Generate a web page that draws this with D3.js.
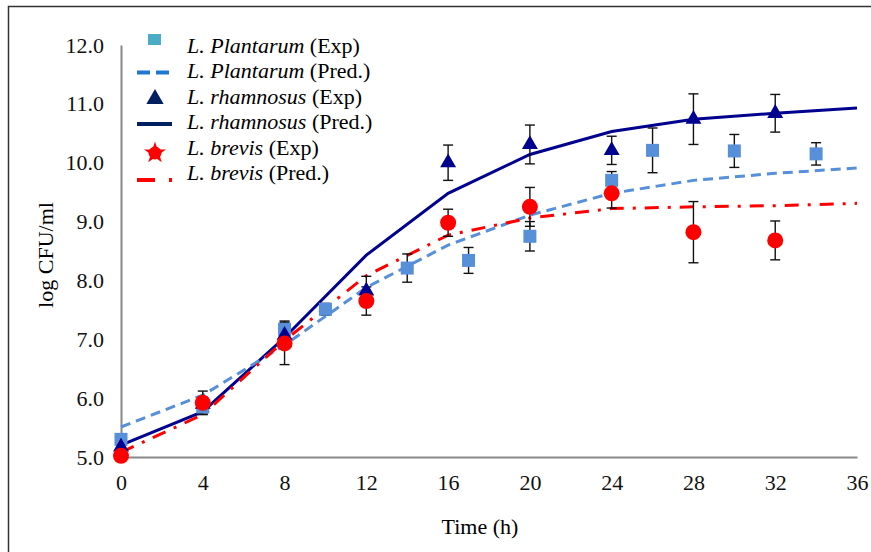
<!doctype html>
<html>
<head>
<meta charset="utf-8">
<script src="https://cdn.jsdelivr.net/npm/d3@7/dist/d3.min.js"></script>
<style>
  body { margin: 0; background: white; }
  svg { font-family: "Liberation Serif", "Times New Roman", serif; }
</style>
</head>
<body>
<svg id="chart" width="871" height="552"></svg>
<script>
// experimental points: time, mean, error
const plantTime = [0, 4, 8, 10, 14, 17, 20, 24, 26, 30, 34]
const plantExp  = [5.3, 5.85, 7.17, 7.51, 8.21, 8.34, 8.75, 9.7, 10.21, 10.2, 10.15]
const plantErr  = [0.05, 0.12, 0.14, 0.1, 0.24, 0.22, 0.25, 0.15, 0.38, 0.28, 0.19]

const rhamTime = [0, 4, 8, 12, 16, 20, 24, 28, 32]
const rhamExp  = [5.17, 5.9, 7.07, 7.82, 10.0, 10.31, 10.21, 10.74, 10.84]
const rhamErr  = [0.05, 0.12, 0.1, 0.25, 0.3, 0.33, 0.24, 0.43, 0.32]

const brevTime = [0, 4, 8, 12, 16, 20, 24, 28, 32]
const brevExp  = [5.02, 5.92, 6.93, 7.65, 8.98, 9.25, 9.48, 8.82, 8.68]
const brevErr  = [0.03, 0.2, 0.36, 0.24, 0.23, 0.33, 0.25, 0.52, 0.33]

// model predictions
const predTime  = [0, 4, 8, 12, 16, 20, 24, 28, 32, 36]
const plantPred = [5.51, 6.05, 6.9, 7.88, 8.6, 9.11, 9.48, 9.7, 9.82, 9.91]
const rhamPred  = [5.2, 5.77, 7.03, 8.43, 9.48, 10.14, 10.53, 10.74, 10.84, 10.93]
const brevPred  = [5.08, 5.72, 6.98, 8.08, 8.77, 9.06, 9.22, 9.25, 9.27, 9.31]

const xTicks = [0, 4, 8, 12, 16, 20, 24, 28, 32, 36]
const yTicks = [5, 6, 7, 8, 9, 10, 11, 12]

const cPlant = "#578fd8", cRham = "#00008f", cBrev = "#ff0000"
const fontSize = 22

const svg = d3.select("#chart")

// outer frame
svg.append("rect")
  .attr("x", 8.5).attr("y", 6.5)
  .attr("width", 900).attr("height", 600)
  .attr("fill", "none").attr("stroke", "#333").attr("stroke-width", 1.5)

const x = d3.scaleLinear().domain([0, 36]).range([121, 857])
const y = d3.scaleLinear().domain([5, 12]).range([457, 45])

// axes
const xAxis = svg.append("g")
  .attr("transform", "translate(0," + y(5) + ")")
  .call(d3.axisBottom(x).tickValues(xTicks).tickSize(0).tickPadding(17))
xAxis.select(".domain").attr("stroke", "#888").attr("stroke-width", 2)
xAxis.selectAll("text").attr("font-size", fontSize).attr("fill", "#111")
  .attr("font-family", "Liberation Serif")

const yAxis = svg.append("g")
  .attr("transform", "translate(" + x(0) + ",0)")
  .call(d3.axisLeft(y).tickValues(yTicks).tickSize(0).tickPadding(17).tickFormat(d3.format(".1f")))
yAxis.select(".domain").attr("stroke", "#888").attr("stroke-width", 2)
yAxis.selectAll("text").attr("font-size", fontSize).attr("fill", "#111")
  .attr("font-family", "Liberation Serif")

svg.append("text")
  .attr("x", 480).attr("y", 534)
  .attr("text-anchor", "middle")
  .attr("font-size", fontSize)
  .text("Time (h)")

svg.append("text")
  .attr("transform", "translate(53,255) rotate(-90)")
  .attr("text-anchor", "middle")
  .attr("font-size", fontSize)
  .text("log CFU/ml")

// prediction lines
const line = d3.line().x((d) => x(d[0])).y((d) => y(d[1]))
const pairs = (ts, vs) => ts.map((t, i) => [t, vs[i]])

svg.append("path")
  .attr("d", line(pairs(predTime, rhamPred)))
  .attr("fill", "none").attr("stroke", cRham).attr("stroke-width", 3)

svg.append("path")
  .attr("d", line(pairs(predTime, plantPred)))
  .attr("fill", "none").attr("stroke", cPlant).attr("stroke-width", 3)
  .attr("stroke-dasharray", "10,6")

svg.append("path")
  .attr("d", line(pairs(predTime, brevPred)))
  .attr("fill", "none").attr("stroke", cBrev).attr("stroke-width", 3)
  .attr("stroke-dasharray", "14,9,3,9")

// error bars
function errorBars(ts, vs, es) {
  const g = svg.append("g").attr("stroke", "#111").attr("stroke-width", 1.4)
  ts.forEach(function(t, i) {
    const cx = x(t), y0 = y(vs[i] - es[i]), y1 = y(vs[i] + es[i])
    g.append("line").attr("x1", cx).attr("x2", cx).attr("y1", y0).attr("y2", y1)
    g.append("line").attr("x1", cx - 5).attr("x2", cx + 5).attr("y1", y0).attr("y2", y0)
    g.append("line").attr("x1", cx - 5).attr("x2", cx + 5).attr("y1", y1).attr("y2", y1)
  })
}
errorBars(plantTime, plantExp, plantErr)
errorBars(rhamTime, rhamExp, rhamErr)
errorBars(brevTime, brevExp, brevErr)

// markers
svg.selectAll(".sq")
  .data(pairs(plantTime, plantExp))
  .enter().append("rect")
    .attr("x", (d) => x(d[0]) - 6.5).attr("y", (d) => y(d[1]) - 6.5)
    .attr("width", 13).attr("height", 13)
    .attr("fill", cPlant)

svg.selectAll(".tri")
  .data(pairs(rhamTime, rhamExp))
  .enter().append("path")
    .attr("transform", (d) => "translate(" + x(d[0]) + "," + y(d[1]) + ")")
    .attr("d", d3.symbol(d3.symbolTriangle, 110))
    .attr("fill", cRham)

svg.selectAll(".dot")
  .data(pairs(brevTime, brevExp))
  .enter().append("circle")
    .attr("cx", (d) => x(d[0])).attr("cy", (d) => y(d[1]))
    .attr("r", 8)
    .attr("fill", cBrev)

// legend
const rows = [
  { sp: "L. Plantarum", tag: " (Exp)" },
  { sp: "L. Plantarum", tag: " (Pred.)" },
  { sp: "L. rhamnosus", tag: " (Exp)" },
  { sp: "L. rhamnosus", tag: " (Pred.)" },
  { sp: "L. brevis", tag: " (Exp)" },
  { sp: "L. brevis", tag: " (Pred.)" }
]
const legendTop = 46, rowH = 25.5
const legend = svg.append("g")

rows.forEach(function(r, i) {
  const t = legend.append("text")
    .attr("x", 187).attr("y", legendTop + i * rowH)
    .attr("dy", "0.3em")
    .attr("font-size", fontSize)
  t.append("tspan").attr("font-style", "italic").text(r.sp)
  t.append("tspan").text(r.tag)
})

legend.append("rect").attr("x", 148).attr("y", 34).attr("width", 13).attr("height", 11)
  .attr("fill", "#4bacc6")
legend.append("line").attr("x1", 137).attr("x2", 170).attr("y1", 72.5).attr("y2", 72.5)
  .attr("stroke", "#1f78d0").attr("stroke-width", 4).attr("stroke-dasharray", "13,6")
legend.append("path").attr("transform", "translate(155,99)")
  .attr("d", d3.symbol(d3.symbolTriangle, 130)).attr("fill", "#002060")
legend.append("line").attr("x1", 137).attr("x2", 172).attr("y1", 124).attr("y2", 124)
  .attr("stroke", "#002060").attr("stroke-width", 4)
legend.append("path").attr("transform", "translate(155,153)")
  .attr("d", d3.symbol(d3.symbolStar, 150)).attr("fill", cBrev)
legend.append("circle").attr("cx", 155).attr("cy", 153).attr("r", 6.5).attr("fill", cBrev)
legend.append("line").attr("x1", 137).attr("x2", 173).attr("y1", 180).attr("y2", 180)
  .attr("stroke", cBrev).attr("stroke-width", 4).attr("stroke-dasharray", "18,14,3,10")
</script>
</body>
</html>
